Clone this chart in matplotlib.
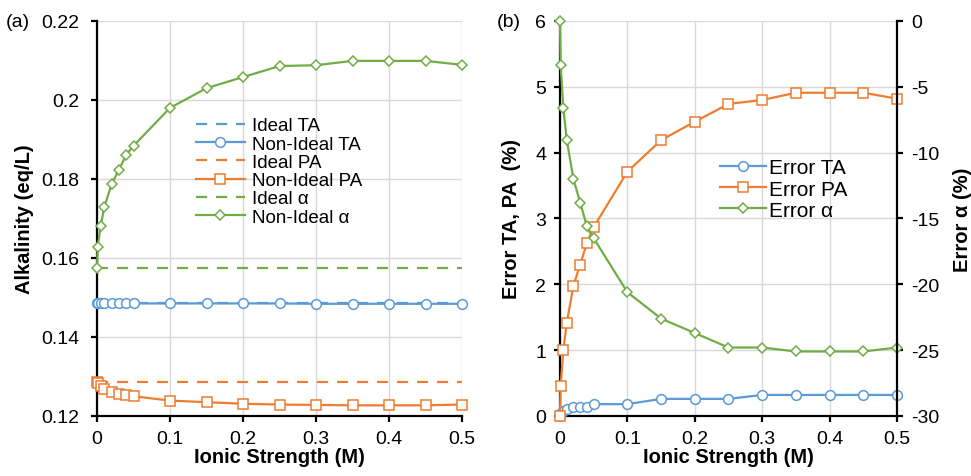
import numpy as np
import matplotlib
matplotlib.use("Agg")
from matplotlib import pyplot as plt
import matplotlib.ticker as mtick

plt.rcParams["font.family"] = ["Liberation Sans", "DejaVu Sans"]
plt.rcParams["font.size"] = 14
plt.rcParams["axes.unicode_minus"] = False

# ionic strength (M)
strength = [0, 0.001, 0.005, 0.01, 0.02, 0.03, 0.04, 0.05, 0.1, 0.15,
            0.2, 0.25, 0.3, 0.35, 0.4, 0.45, 0.5]

# (a) alkalinity (eq/L)
ideal_ta = [0.1487] * len(strength)
nonideal_ta = [0.1487, 0.1487, 0.1487, 0.1486, 0.1486, 0.1486, 0.1486, 0.1485, 0.1485,
               0.1485, 0.1485, 0.1485, 0.1484, 0.1484, 0.1484, 0.1484, 0.1484]
ideal_pa = [0.1286] * len(strength)
nonideal_pa = [0.1287, 0.1283, 0.1276, 0.1268, 0.1260, 0.1255, 0.1252, 0.1250, 0.1239,
               0.1235, 0.1231, 0.1229, 0.1228, 0.1227, 0.1227, 0.1227, 0.1229]
ideal_alpha = [0.1575] * len(strength)
nonideal_alpha = [0.1575, 0.1628, 0.1681, 0.1729, 0.1787, 0.1823, 0.1861, 0.1884, 0.1980,
                  0.2030, 0.2058, 0.2086, 0.2088, 0.2099, 0.2099, 0.2099, 0.2089]

# (b) errors (%)
err_ta = [0, 0.05, 0.08, 0.10, 0.14, 0.14, 0.14, 0.18, 0.18, 0.26, 0.26, 0.26,
          0.32, 0.32, 0.32, 0.32, 0.32]
err_pa = [0, 0.46, 1.0, 1.41, 1.98, 2.3, 2.63, 2.87, 3.71, 4.19, 4.47, 4.74,
          4.8, 4.91, 4.91, 4.91, 4.82]
err_alpha = [0, -3.34, -6.6, -9.03, -12.0, -13.8, -15.6, -16.5, -20.6, -22.6, -23.7,
             -24.8, -24.8, -25.1, -25.1, -25.1, -24.8]

blue = "#5B9BD5"
orange = "#ED7D31"
green = "#70AD47"

fig = plt.figure(figsize=(9.71, 4.77), dpi=100)
ax1 = fig.add_axes([0.0999, 0.1258, 0.3759, 0.8281])
ax2 = fig.add_axes([0.5767, 0.1258, 0.3471, 0.8281])

dash = (0, (5, 4))
mk = dict(markerfacecolor="white", markeredgewidth=1.1, clip_on=False, lw=1.6)

def style(ax):
    ax.grid(True, color="#D9D9D9", lw=1.0)
    ax.set_axisbelow(True)
    for s in ["top", "right"]:
        ax.spines[s].set_visible(False)
    for s in ["left", "bottom"]:
        ax.spines[s].set_linewidth(1.6)
        ax.spines[s].set_zorder(1.5)
    ax.tick_params(direction="out", length=4, width=1.6, labelsize=14, pad=6)
    ax.set_xlim(0, 0.5)
    ax.set_xticks(np.arange(0, 0.51, 0.1))
    ax.xaxis.set_major_formatter(mtick.FormatStrFormatter("%g"))
    ax.set_xlabel("Ionic Strength (M)", fontweight="bold", fontsize=14.5, labelpad=0)

# ---- (a)
style(ax1)
ax1.plot(strength, ideal_ta, ls=dash, color=blue, lw=1.6, label="Ideal TA")
ax1.plot(strength, nonideal_ta, color=blue, marker="o", ms=7, markeredgecolor=blue,
         label="Non-Ideal TA", **mk)
ax1.plot(strength, ideal_pa, ls=dash, color=orange, lw=1.6, label="Ideal PA")
ax1.plot(strength, nonideal_pa, color=orange, marker="s", ms=7.5, markeredgecolor=orange,
         label="Non-Ideal PA", **mk)
ax1.plot(strength, ideal_alpha, ls=dash, color=green, lw=1.6, label="Ideal α")
ax1.plot(strength, nonideal_alpha, color=green, marker="D", ms=5.5, markeredgecolor=green,
         label="Non-Ideal α", **mk)
ax1.set_ylim(0.12, 0.22)
ax1.set_yticks(np.arange(0.12, 0.2201, 0.02))
ax1.yaxis.set_major_formatter(mtick.FormatStrFormatter("%g"))
ax1.tick_params(axis="y", pad=9)
ax1.set_ylabel("Alkalinity (eq/L)", fontweight="bold", fontsize=14.5, labelpad=5)
ax1.legend(loc="upper left", bbox_to_anchor=(0.25, 0.775), frameon=False, fontsize=13.5,
           handlelength=2.6, labelspacing=0.06, handletextpad=0.4, numpoints=1,
           borderaxespad=0)

# ---- (b)
style(ax2)
l1, = ax2.plot(strength, err_ta, color=blue, marker="o", ms=7, markeredgecolor=blue,
               label="Error TA", **mk)
l2, = ax2.plot(strength, err_pa, color=orange, marker="s", ms=7.5, markeredgecolor=orange,
               label="Error PA", **mk)
ax2.set_ylim(0, 6)
ax2.set_yticks(range(0, 7))
ax2.set_ylabel("Error TA, PA  (%)", fontweight="bold", fontsize=14.5, labelpad=10)

ax3 = ax2.twinx()
l3, = ax3.plot(strength, err_alpha, color=green, marker="D", ms=5.5, markeredgecolor=green,
               label="Error α", **mk)
ax3.set_ylim(-30, 0)
ax3.set_yticks(range(-30, 1, 5))
for s in ["top", "left", "bottom"]:
    ax3.spines[s].set_visible(False)
ax3.spines["right"].set_linewidth(1.6)
ax3.tick_params(direction="out", length=4, width=1.6, labelsize=14, pad=6)
ax3.set_ylabel("Error α (%)", fontweight="bold", fontsize=14.5, rotation=90, labelpad=10)
ax3.legend(handles=[l1, l2, l3], loc="upper left", bbox_to_anchor=(0.45, 0.673),
           frameon=False, fontsize=15, handlelength=2.2, labelspacing=0.1,
           handletextpad=0.15, numpoints=1, borderaxespad=0)

fig.text(0.006, 0.953, "(a)", fontsize=14, va="center")
fig.text(0.512, 0.953, "(b)", fontsize=14, va="center")

fig.savefig("out.png", dpi=100)
